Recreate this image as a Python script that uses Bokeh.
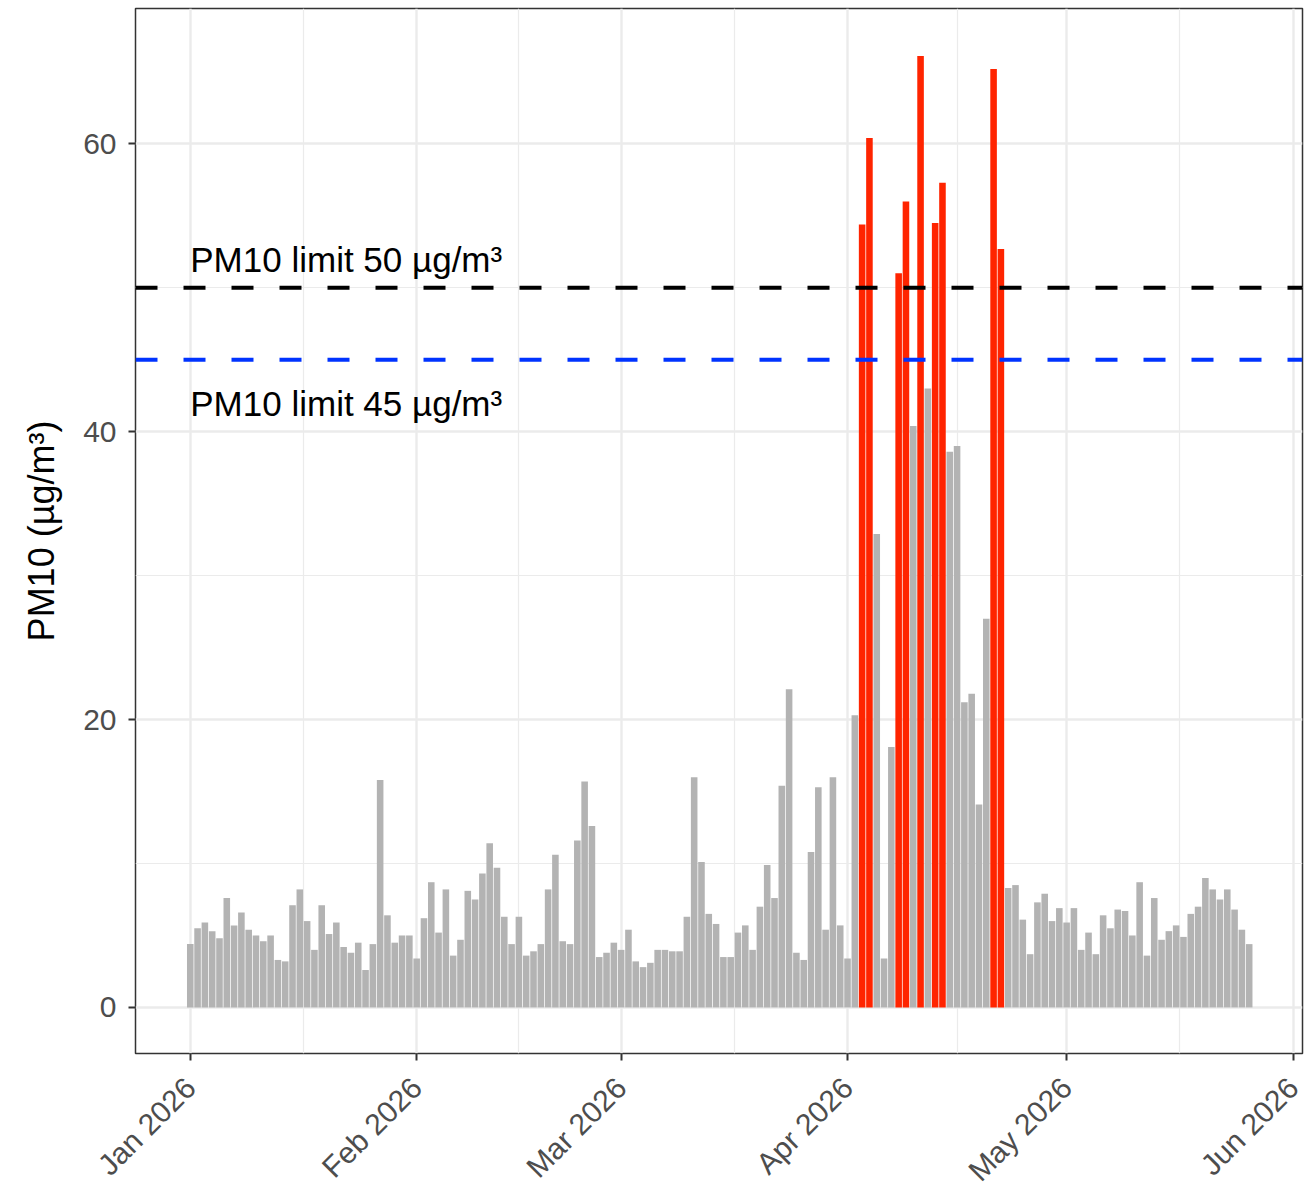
import math
import pandas as pd
from bokeh.plotting import figure
from bokeh.models import ColumnDataSource, Range1d, FixedTicker, Span
from bokeh.core.properties import value
from bokeh.embed import file_html
from bokeh.resources import INLINE

# ---------------- data ----------------
start_date = "2026-01-01"

pm10 = [
    4.4, 5.5, 5.9, 5.3, 4.8, 7.6, 5.7, 6.6, 5.4, 5.0,
    4.6, 5.0, 3.3, 3.2, 7.1, 8.2, 6.0, 4.0, 7.1, 5.1,
    5.9, 4.2, 3.8, 4.5, 2.6, 4.4, 15.8, 6.4, 4.5, 5.0,
    5.0, 3.4, 6.2, 8.7, 5.2, 8.2, 3.6, 4.7, 8.1, 7.5,
    9.3, 11.4, 9.7, 6.3, 4.4, 6.3, 3.6, 3.9, 4.4, 8.2,
    10.6, 4.6, 4.4, 11.6, 15.7, 12.6, 3.5, 3.8, 4.5, 4.0,
    5.4, 3.2, 2.8, 3.1, 4.0, 4.0, 3.9, 3.9, 6.3, 16.0,
    10.1, 6.5, 5.8, 3.5, 3.5, 5.2, 5.7, 4.0, 7.0, 9.9,
    7.6, 15.4, 22.1, 3.8, 3.3, 10.8, 15.3, 5.4, 16.0, 5.7,
    3.4, 20.3, 54.4, 60.4, 32.9, 3.4, 18.1, 51.0, 56.0, 40.4,
    66.1, 43.0, 54.5, 57.3, 38.6, 39.0, 21.2, 21.8, 14.1, 27.0,
    65.2, 52.7, 8.3, 8.5, 6.1, 3.7, 7.3, 7.9, 6.0, 6.9,
    5.9, 6.9, 4.0, 5.2, 3.7, 6.4, 5.5, 6.8, 6.7, 5.0,
    8.7, 3.6, 7.6, 4.7, 5.3, 5.7, 4.9, 6.5, 7.0, 9.0,
    8.2, 7.5, 8.2, 6.8, 5.4, 4.4,
]

limit_values = [50, 45]
limit_colors = ["#000000", "#0033FF"]
limit_labels = ["PM10 limit 50 µg/m³", "PM10 limit 45 µg/m³"]

month_starts = ["2026-01-01", "2026-02-01", "2026-03-01",
                "2026-04-01", "2026-05-01", "2026-06-01"]
month_labels = ["Jan 2026", "Feb 2026", "Mar 2026",
                "Apr 2026", "May 2026", "Jun 2026"]

y_ticks = [0, 20, 40, 60]
y_minor = [10, 30, 50]

# ---------------- derived ----------------
start = pd.Timestamp(start_date)
dates = pd.date_range(start, periods=len(pm10), freq="D")
day = [(d - start).days for d in dates]
bar_colors = ["#FF2400" if v > limit_values[0] else "#B3B3B3" for v in pm10]

tick_pos = [(pd.Timestamp(m) - start).days for m in month_starts]
minor_pos = [(a + b) / 2 for a, b in zip(tick_pos[:-1], tick_pos[1:])]

FONT = "Liberation Sans"

p = figure(
    frame_width=1167, frame_height=1045,
    x_range=Range1d(-7.5, 152.3), y_range=Range1d(-3.2, 69.4),
    output_backend="svg", toolbar_location=None,
    min_border_left=135, min_border_right=4,
    min_border_top=8, min_border_bottom=133,
    background_fill_color="white", border_fill_color="white",
)

p.outline_line_color = "#333333"
p.outline_line_width = 1.5

# grids
p.xgrid.ticker = FixedTicker(ticks=tick_pos, minor_ticks=minor_pos)
p.ygrid.ticker = FixedTicker(ticks=y_ticks, minor_ticks=y_minor)
for g in (p.xgrid, p.ygrid):
    g.grid_line_color = "#EBEBEB"
    g.grid_line_width = 2.4
    g.minor_grid_line_color = "#EBEBEB"
    g.minor_grid_line_width = 1.2

# bars
src = ColumnDataSource(dict(day=day, pm10=pm10, color=bar_colors))
p.vbar(x="day", top="pm10", width=0.9, bottom=0, source=src,
       fill_color="color", line_color=None)

# limit lines
for lv, lc in zip(limit_values, limit_colors):
    p.add_layout(Span(location=lv, dimension="width", line_color=lc,
                      line_width=4, line_dash="22 26"))

# labels
txt_src = ColumnDataSource(dict(x=[0, 0], y=limit_values, text=limit_labels,
                                yoff=[-28, 44]))
p.text(x="x", y="y", text="text", y_offset="yoff", source=txt_src,
       text_font=value(FONT), text_font_size="35px", text_color="black",
       text_baseline="alphabetic", text_align="left")

# axes
p.xaxis.ticker = FixedTicker(ticks=tick_pos)
p.xaxis.major_label_overrides = {t: l for t, l in zip(tick_pos, month_labels)}
p.xaxis.major_label_orientation = math.pi / 4
p.yaxis.ticker = FixedTicker(ticks=y_ticks)
p.yaxis.axis_label = "PM10 (µg/m³)"

for ax in (p.xaxis[0], p.yaxis[0]):
    ax.axis_line_color = None
    ax.major_tick_line_color = "#333333"
    ax.major_tick_line_width = 2
    ax.major_tick_out = 7
    ax.major_tick_in = 0
    ax.minor_tick_line_color = None
    ax.major_label_text_font = FONT
    ax.major_label_text_font_size = "30px"
    ax.major_label_text_color = "#4D4D4D"
    ax.major_label_standoff = 12

p.xaxis.major_label_standoff = 22

p.yaxis.axis_label_text_font = FONT
p.yaxis.axis_label_text_font_size = "36px"
p.yaxis.axis_label_text_font_style = "normal"
p.yaxis.axis_label_text_color = "black"
p.yaxis.axis_label_standoff = 18

open("out.html", "w").write(file_html(p, INLINE))
